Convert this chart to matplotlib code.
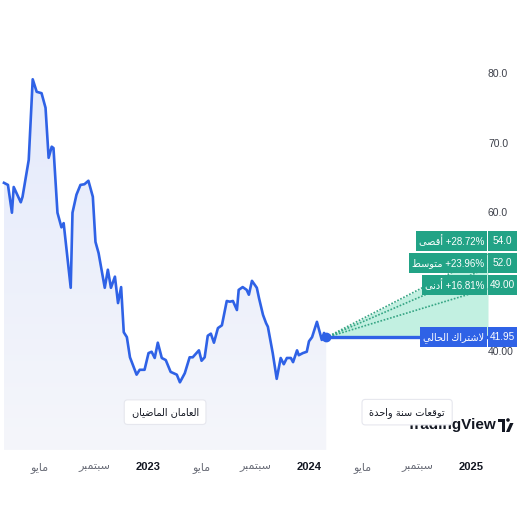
import numpy as np
import matplotlib.pyplot as plt
import matplotlib.dates as mdates
from matplotlib.colors import LinearSegmentedColormap
from matplotlib.patches import Rectangle, Polygon, Circle
from matplotlib.transforms import IdentityTransform

# price history
dates = ['2022-02-09', '2022-02-18', '2022-02-27', '2022-03-03', '2022-03-19', '2022-03-23',
         '2022-04-06', '2022-04-15', '2022-04-24', '2022-05-05', '2022-05-14', '2022-05-21',
         '2022-05-28', '2022-06-01', '2022-06-10', '2022-06-19', '2022-06-24', '2022-07-10',
         '2022-07-14', '2022-07-23', '2022-08-01', '2022-08-10', '2022-08-19', '2022-08-29',
         '2022-09-04', '2022-09-11', '2022-09-25', '2022-10-02', '2022-10-09', '2022-10-18',
         '2022-10-25', '2022-11-01', '2022-11-07', '2022-11-14', '2022-11-21', '2022-12-06',
         '2022-12-13', '2022-12-24', '2023-01-02', '2023-01-09', '2023-01-16', '2023-01-23',
         '2023-02-01', '2023-02-10', '2023-02-21', '2023-03-07', '2023-03-14', '2023-03-25',
         '2023-04-05', '2023-04-12', '2023-04-26', '2023-05-02', '2023-05-09', '2023-05-16',
         '2023-05-23', '2023-05-30', '2023-06-08', '2023-06-17', '2023-06-28', '2023-07-05',
         '2023-07-12', '2023-07-21', '2023-07-25', '2023-08-03', '2023-08-12', '2023-08-17',
         '2023-08-24', '2023-09-04', '2023-09-09', '2023-09-18', '2023-09-25', '2023-09-29',
         '2023-10-10', '2023-10-19', '2023-10-28', '2023-11-04', '2023-11-11', '2023-11-20',
         '2023-11-25', '2023-12-04', '2023-12-08', '2023-12-17', '2023-12-26', '2023-12-31',
         '2024-01-07', '2024-01-18', '2024-01-29', '2024-02-03', '2024-02-08']
price = [64.2, 63.9, 59.9, 63.6, 61.4, 62.2, 67.5, 79.1, 77.3, 77.1, 75.0, 67.8,
         69.4, 69.2, 59.9, 57.8, 58.4, 49.1, 59.9, 62.5, 63.9, 64.0, 64.5, 62.2,
         55.7, 54.1, 49.1, 51.7, 49.1, 50.7, 46.9, 49.2, 42.7, 42.0, 39.1, 36.6,
         37.3, 37.3, 39.7, 39.9, 39.0, 41.2, 39.0, 38.7, 37.0, 36.6, 35.5, 36.8,
         39.1, 39.1, 40.1, 38.6, 39.1, 42.2, 42.5, 41.2, 43.3, 43.7, 47.2, 47.1,
         47.2, 45.9, 48.8, 49.2, 48.8, 48.1, 50.1, 49.1, 47.6, 45.2, 44.0, 43.5,
         39.7, 36.0, 39.0, 38.1, 39.0, 39.0, 38.4, 40.1, 39.4, 39.7, 39.9, 41.4,
         42.0, 44.2, 41.6, 42.6, 41.95]

# one year forecast
fc_start = '2024-02-08'
fc_end = '2025-02-08'
current = 41.95
fc_names = ['أقصى', 'متوسط', 'أدنى']
fc_values = [54.0, 52.0, 49.0]
fc_value_text = ['54.0', '52.0', '49.00']
fc_pct = ['+28.72%', '+23.96%', '+16.81%']
current_name = 'لاشتراك الحالي'

tick_dates = ['2022-05-01', '2022-09-01', '2023-01-01', '2023-05-01', '2023-09-01',
              '2024-01-01', '2024-05-01', '2024-09-01', '2025-01-01']
tick_names = ['مايو', 'سبتمبر', '2023', 'مايو', 'سبتمبر', '2024', 'مايو', 'سبتمبر', '2025']
# 50.0 sits behind the forecast tags, so it is left out
y_ticks = [40, 60, 70, 80]
y_tick_labels = ['40.00', '60.0', '70.0', '80.0']

# matplotlib has no arabic shaping, so map letters to presentation forms by hand
FORMS = {
    'ا': ('\ufe8d', '\ufe8e', None, None), 'أ': ('\ufe83', '\ufe84', None, None),
    'ب': ('\ufe8f', '\ufe90', '\ufe91', '\ufe92'), 'ة': ('\ufe93', '\ufe94', None, None),
    'ت': ('\ufe95', '\ufe96', '\ufe97', '\ufe98'), 'ح': ('\ufea1', '\ufea2', '\ufea3', '\ufea4'),
    'د': ('\ufea9', '\ufeaa', None, None), 'ر': ('\ufead', '\ufeae', None, None),
    'س': ('\ufeb1', '\ufeb2', '\ufeb3', '\ufeb4'), 'ش': ('\ufeb5', '\ufeb6', '\ufeb7', '\ufeb8'),
    'ص': ('\ufeb9', '\ufeba', '\ufebb', '\ufebc'), 'ض': ('\ufebd', '\ufebe', '\ufebf', '\ufec0'),
    'ط': ('\ufec1', '\ufec2', '\ufec3', '\ufec4'), 'ع': ('\ufec9', '\ufeca', '\ufecb', '\ufecc'),
    'ق': ('\ufed5', '\ufed6', '\ufed7', '\ufed8'), 'ك': ('\ufed9', '\ufeda', '\ufedb', '\ufedc'),
    'ل': ('\ufedd', '\ufede', '\ufedf', '\ufee0'), 'م': ('\ufee1', '\ufee2', '\ufee3', '\ufee4'),
    'ن': ('\ufee5', '\ufee6', '\ufee7', '\ufee8'), 'و': ('\ufeed', '\ufeee', None, None),
    'ى': ('\ufeef', '\ufef0', None, None), 'ي': ('\ufef1', '\ufef2', '\ufef3', '\ufef4'),
}
LAM_ALEF = {'ا': ('\ufefb', '\ufefc'), 'أ': ('\ufef7', '\ufef8')}


def shape(text):
    # only arabic words get reshaped and reversed; digits stay as they are
    if not any(c in FORMS for c in text):
        return text
    out = []
    i = 0
    while i < len(text):
        c = text[i]
        if c not in FORMS:
            out.append(c)
            i += 1
            continue
        prev = text[i-1] if i > 0 else None
        joins_prev = prev in FORMS and FORMS[prev][2] is not None
        if c == 'ل' and i+1 < len(text) and text[i+1] in LAM_ALEF:
            out.append(LAM_ALEF[text[i+1]][1 if joins_prev else 0])
            i += 2
            continue
        nxt = text[i+1] if i+1 < len(text) else None
        joins_next = FORMS[c][2] is not None and nxt in FORMS
        iso, fin, ini, med = FORMS[c]
        if joins_prev and joins_next:
            out.append(med)
        elif joins_prev:
            out.append(fin)
        elif joins_next:
            out.append(ini)
        else:
            out.append(iso)
        i += 1
    return ''.join(reversed(out))


def d2n(s):
    return mdates.date2num(np.array(s, dtype='datetime64[D]'))


BLUE = '#2f62e6'
GREEN = '#22a386'
NARROW = ['Liberation Sans Narrow', 'Liberation Sans', 'DejaVu Sans']

fig = plt.figure(figsize=(5.2, 5.2), dpi=100)
ax = fig.add_axes([0, 70/520, 488/520, 430/520])
ylo, yhi = 25.76, 87.63

x = d2n(dates)
ax.plot(x, price, color=BLUE, lw=1.9, zorder=5, solid_joinstyle='round')

# soft gradient under the history line
poly = ax.fill_between(x, price, ylo, color='none', lw=0)
cmap = LinearSegmentedColormap.from_list('bg', ['#e4eafc', '#f5f6fa'])
grad = np.linspace(0, 1, 256).reshape(-1, 1)
im = ax.imshow(grad, cmap=cmap, aspect='auto', origin='upper',
               extent=[x[0], x[-1], ylo, 80], zorder=1)
im.set_clip_path(poly.get_paths()[0], ax.transData)
ax.set_xlim(d2n('2022-01-31'), d2n('2025-02-08'))
ax.set_ylim(ylo, yhi)

# forecast fan
xs, xe = d2n(fc_start), d2n(fc_end)
ax.fill_between([xs, xe], [current, current], [current, max(fc_values)],
                color='#c2f0e1', lw=0, zorder=2)
for v in fc_values:
    ax.plot([xs, xe], [current, v], ls=(0, (1, 1)), color='#36a584', lw=1.2, zorder=4)
ax.plot([xs, xe], [current, current], color=BLUE, lw=2.4, zorder=6)
ax.plot(xs, current, 'o', ms=6, color=BLUE, zorder=7)

# axes
for s in ax.spines.values():
    s.set_visible(False)
ax.set_xticks(d2n(tick_dates))
ax.set_xticklabels([shape(t) for t in tick_names], family=NARROW, fontsize=8, color='#6a6d78')
for lab, name in zip(ax.get_xticklabels(), tick_names):
    if name.isdigit():
        lab.set_color('#131722')
        lab.set_fontweight('bold')
ax.tick_params(axis='x', length=0, pad=9)
ax.yaxis.tick_right()
ax.set_yticks(y_ticks)
ax.set_yticklabels(y_tick_labels, family=NARROW, fontsize=7.5, color='#3d404a')
ax.tick_params(axis='y', length=0, pad=0)

# price labels on the right
fig.canvas.draw()
renderer = fig.canvas.get_renderer()
ident = IdentityTransform()


def tag(yc, name, value, color):
    t = fig.text(484/520, yc/520, name, ha='right', va='center', color='white',
                 fontsize=7, family=NARROW, zorder=11)
    bb = t.get_window_extent(renderer)
    fig.add_artist(Rectangle((bb.x0 - 3, yc - 10), 487 - bb.x0 + 3, 20, transform=ident,
                             fc=color, ec='none', zorder=10))
    fig.add_artist(Rectangle((488, yc - 10), 29, 20, transform=ident,
                             fc=color, ec='none', zorder=10))
    fig.text(502.5/520, yc/520, value, ha='center', va='center', color='white',
             fontsize=7.2, family=NARROW, zorder=11)


ymin_px = ax.transData.transform((xe, min(fc_values)))[1]
for k in range(len(fc_values)):
    row = len(fc_values) - 1 - k
    tag(ymin_px + 3 + row * 22, shape(fc_names[k]) + ' ' + fc_pct[k], fc_value_text[k], GREEN)
tag(ax.transData.transform((xe, current))[1], shape(current_name), f'{current:.2f}', BLUE)

# watermark, sits under the caption boxes
ax.text(497, 520 - 425, 'TradingView', transform=ident, ha='right', va='center', fontsize=11,
        fontweight='bold', family=NARROW, color='#131722', zorder=3, clip_on=False)
for p in [Rectangle((498, 520-422), 7, 3.5), Rectangle((501.5, 520-432), 3.5, 12),
          Circle((508, 520-420), 1.8),
          Polygon([(506, 520-432), (510, 520-423), (513.5, 520-423), (509.5, 520-432)])]:
    p.set_transform(ident)
    p.set_facecolor('#131722')
    p.set_zorder(3)
    p.set_clip_on(False)
    ax.add_artist(p)

# section captions
box = dict(boxstyle='round,pad=0.75,rounding_size=0.35', fc='white', ec='#e6e7ee', lw=0.8)
ax.text((x[0] + x[-1]) / 2, 0.088, shape('العامان الماضيان'), transform=ax.get_xaxis_transform(),
        ha='center', va='center', fontsize=7, color='#131722', bbox=box, zorder=9)
ax.text((xs + xe) / 2, 0.088, shape('توقعات سنة واحدة'), transform=ax.get_xaxis_transform(),
        ha='center', va='center', fontsize=7, color='#131722', bbox=box, zorder=9)

fig.savefig('out.png', dpi=100)
